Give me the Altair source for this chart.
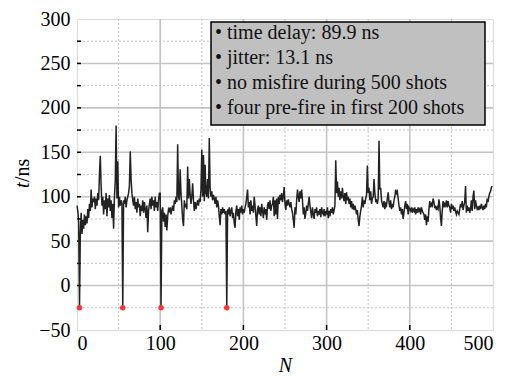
import altair as alt
import pandas as pd

# shot-to-shot delay values (ns), 500 shots
t_values = [
    90, 84, 72, -25, 60, 82, 58, 74, 64, 80, 68, 78, 70, 86, 76, 92, 84, 108, 88, 98,
    94, 100, 86, 98, 90, 104, 96, 126, 146, 112, 90, 100, 80, 96, 86, 104, 78, 98, 88, 102,
    84, 96, 76, 92, 64, 100, 118, 180, 98, 140, 88, 100, 90, 96, 92, -25, 96, 92, 100, 88,
    96, 100, 104, 112, 151, 120, 104, 96, 90, 100, 86, 94, 82, 98, 88, 92, 78, 90, 84, 96,
    82, 94, 86, 76, 90, 60, 84, 92, 98, 86, 100, 90, 96, 84, 100, 88, 94, 84, 96, 104,
    104, -25, 84, 88, 72, 82, 66, 80, 62, 78, 86, 84, 88, 80, 86, 90, 84, 96, 92, 100,
    94, 159, 100, 96, 131, 104, 90, 74, 67, 96, 88, 92, 86, 134, 98, 120, 102, 92, 100, 115,
    96, 84, 94, 86, 92, 96, 90, 98, 94, 108, 153, 100, 147, 95, 136, 104, 100, 120, 98, 166,
    110, 100, 106, 96, 102, 98, 92, 100, 88, 96, 90, 78, 68, 86, 80, 88, 82, 86, 80, 84,
    -25, 86, 80, 88, 78, 84, 88, 76, 82, 70, 65, 84, 90, 78, 86, 74, 88, 82, 90, 80,
    86, 82, 88, 92, 100, 108, 88, 94, 80, 96, 84, 90, 82, 100, 90, 78, 67, 86, 90, 80,
    88, 78, 92, 84, 76, 88, 80, 86, 74, 90, 94, 86, 96, 84, 90, 92, 100, 78, 96, 80,
    98, 75, 100, 92, 102, 96, 104, 94, 100, 111, 92, 85, 96, 90, 97, 92, 88, 94, 86, 82,
    74, 65, 88, 80, 96, 108, 100, 94, 106, 98, 108, 96, 80, 88, 75, 82, 90, 84, 92, 100,
    90, 83, 76, 88, 80, 75, 86, 82, 88, 78, 84, 80, 86, 77, 88, 82, 80, 86, 78, 84,
    80, 88, 76, 84, 78, 86, 82, 88, 80, 85, 90, 141, 104, 117, 100, 110, 96, 106, 98, 110,
    100, 95, 104, 92, 105, 96, 100, 92, 98, 88, 95, 86, 92, 85, 90, 86, 80, 85, 74, 67,
    78, 84, 90, 100, 88, 96, 92, 98, 102, 135, 104, 110, 96, 106, 92, 98, 100, 120, 104, 95,
    96, 92, 98, 163, 108, 110, 96, 92, 88, 95, 86, 92, 90, 98, 105, 94, 88, 96, 86, 92,
    88, 96, 100, 108, 104, 106, 98, 90, 84, 88, 80, 86, 75, 82, 90, 95, 86, 92, 80, 88,
    86, 84, 88, 82, 86, 84, 88, 80, 86, 82, 88, 84, 86, 80, 88, 84, 82, 80, 74, 80,
    68, 78, 72, 86, 95, 88, 92, 90, 98, 94, 87, 90, 85, 88, 86, 97, 90, 76, 67, 84,
    95, 88, 92, 90, 96, 88, 95, 90, 88, 82, 92, 86, 90, 84, 88, 83, 80, 84, 82, 80,
    86, 92, 88, 95, 85, 90, 94, 112, 82, 90, 84, 88, 82, 86, 96, 84, 100, 107, 86, 96,
    90, 86, 88, 85, 90, 86, 92, 88, 85, 90, 86, 92, 88, 98, 94, 100, 104, 106, 110, 112,
]
shots = list(range(len(t_values)))
prefire_shots = [3, 55, 101, 180]

notes = [
    "• time delay: 89.9 ns",
    "• jitter: 13.1 ns",
    "• no misfire during 500 shots",
    "• four pre-fire in first 200 shots",
]

x_labels = [0, 100, 200, 300, 400, 500]
x_major_grid = [100, 200, 300, 400]
x_minor_grid = [50, 150, 250, 350, 450]
y_labels = [-50, 0, 50, 100, 150, 200, 250, 300]
y_major_grid = [0, 50, 100, 150, 200, 250]
y_minor_grid = [-25, 25, 75, 125, 175, 225, 275]

FONT = "'Liberation Serif', 'DejaVu Serif'"
GRID = "#c4c4c4"
W, H = 416, 311

df = pd.DataFrame({"N": shots, "t": t_values})
df_pre = df[df["N"].isin(prefire_shots)]

x_scale = alt.Scale(domain=[0, 500], nice=False)
y_scale = alt.Scale(domain=[-50, 300], nice=False)

x_enc = alt.X(
    "N:Q",
    scale=x_scale,
    axis=alt.Axis(
        values=x_labels,
        title="N",
        titleFontStyle="italic",
        titleFontWeight="normal",
        titleFont=FONT,
        titleFontSize=20,
        titleColor="black",
        titlePadding=2,
        labelFont=FONT,
        labelFontSize=20,
        labelColor="black",
        labelPadding=3,
        ticks=False,
        domain=False,
        grid=False,
    ),
)
y_enc = alt.Y(
    "t:Q",
    scale=y_scale,
    axis=alt.Axis(
        values=y_labels,
        title=None,
        labelFont=FONT,
        labelFontSize=20,
        labelColor="black",
        labelPadding=7,
        ticks=False,
        domain=False,
        grid=False,
    ),
)

def vrules(vals, dash, width):
    return alt.Chart(pd.DataFrame({"v": vals})).mark_rule(
        color=GRID, strokeDash=dash, strokeWidth=width
    ).encode(x=alt.X("v:Q", scale=x_scale))

def hrules(vals, dash, width):
    return alt.Chart(pd.DataFrame({"v": vals})).mark_rule(
        color=GRID, strokeDash=dash, strokeWidth=width
    ).encode(y=alt.Y("v:Q", scale=y_scale))

grid_layers = [
    vrules(x_minor_grid, [2, 2], 1),
    hrules(y_minor_grid, [2, 2], 1),
    vrules(x_major_grid, [1, 0], 1.6),
    hrules(y_major_grid, [1, 0], 1.6),
]

# inward tick marks
x_ticks_in = alt.Chart(pd.DataFrame({"v": x_major_grid})).mark_rule(
    color="black", strokeWidth=1.5
).encode(x=alt.X("v:Q", scale=x_scale), y=alt.value(H), y2=alt.value(H - 5))
y_ticks_in = alt.Chart(pd.DataFrame({"v": y_major_grid + y_minor_grid})).mark_rule(
    color="black", strokeWidth=1.5
).encode(y=alt.Y("v:Q", scale=y_scale), x=alt.value(0), x2=alt.value(4))

line = alt.Chart(df).mark_line(color="#222222", strokeWidth=1.5).encode(x=x_enc, y=y_enc)
pts = alt.Chart(df_pre).mark_point(filled=True, color="#ff3333", size=30, opacity=1).encode(
    x="N:Q", y="t:Q"
)

one = pd.DataFrame({"a": [0]})
box = alt.Chart(one).mark_rect(
    fill="#c0c0c0", stroke="black", strokeWidth=1.5
).encode(x=alt.value(134), x2=alt.value(408), y=alt.value(3), y2=alt.value(106))

note_text = alt.Chart(one).mark_text(
    align="left", baseline="middle", font=FONT, fontSize=20, color="#111111", lineHeight=25
).encode(x=alt.value(138), y=alt.value(14), text=alt.value(notes))

ytitle_t = alt.Chart(one).mark_text(
    align="left", baseline="middle", angle=270, font=FONT, fontSize=20,
    fontStyle="italic", color="black"
).encode(x=alt.value(-54), y=alt.value(169), text=alt.value("t"))
ytitle_ns = alt.Chart(one).mark_text(
    align="left", baseline="middle", angle=270, font=FONT, fontSize=20, color="black"
).encode(x=alt.value(-54), y=alt.value(163), text=alt.value("/ns"))

chart = alt.layer(
    *grid_layers, x_ticks_in, y_ticks_in, line, pts, box, note_text, ytitle_t, ytitle_ns
).properties(
    width=W,
    height=H,
    autosize=alt.AutoSizeParams(type="none"),
    padding={"left": 69, "top": 11, "right": 16, "bottom": 44},
).configure_view(stroke="black", strokeWidth=1.5).configure(background="white")

chart.save("out.html", embed_options={"renderer": "svg", "actions": False})
